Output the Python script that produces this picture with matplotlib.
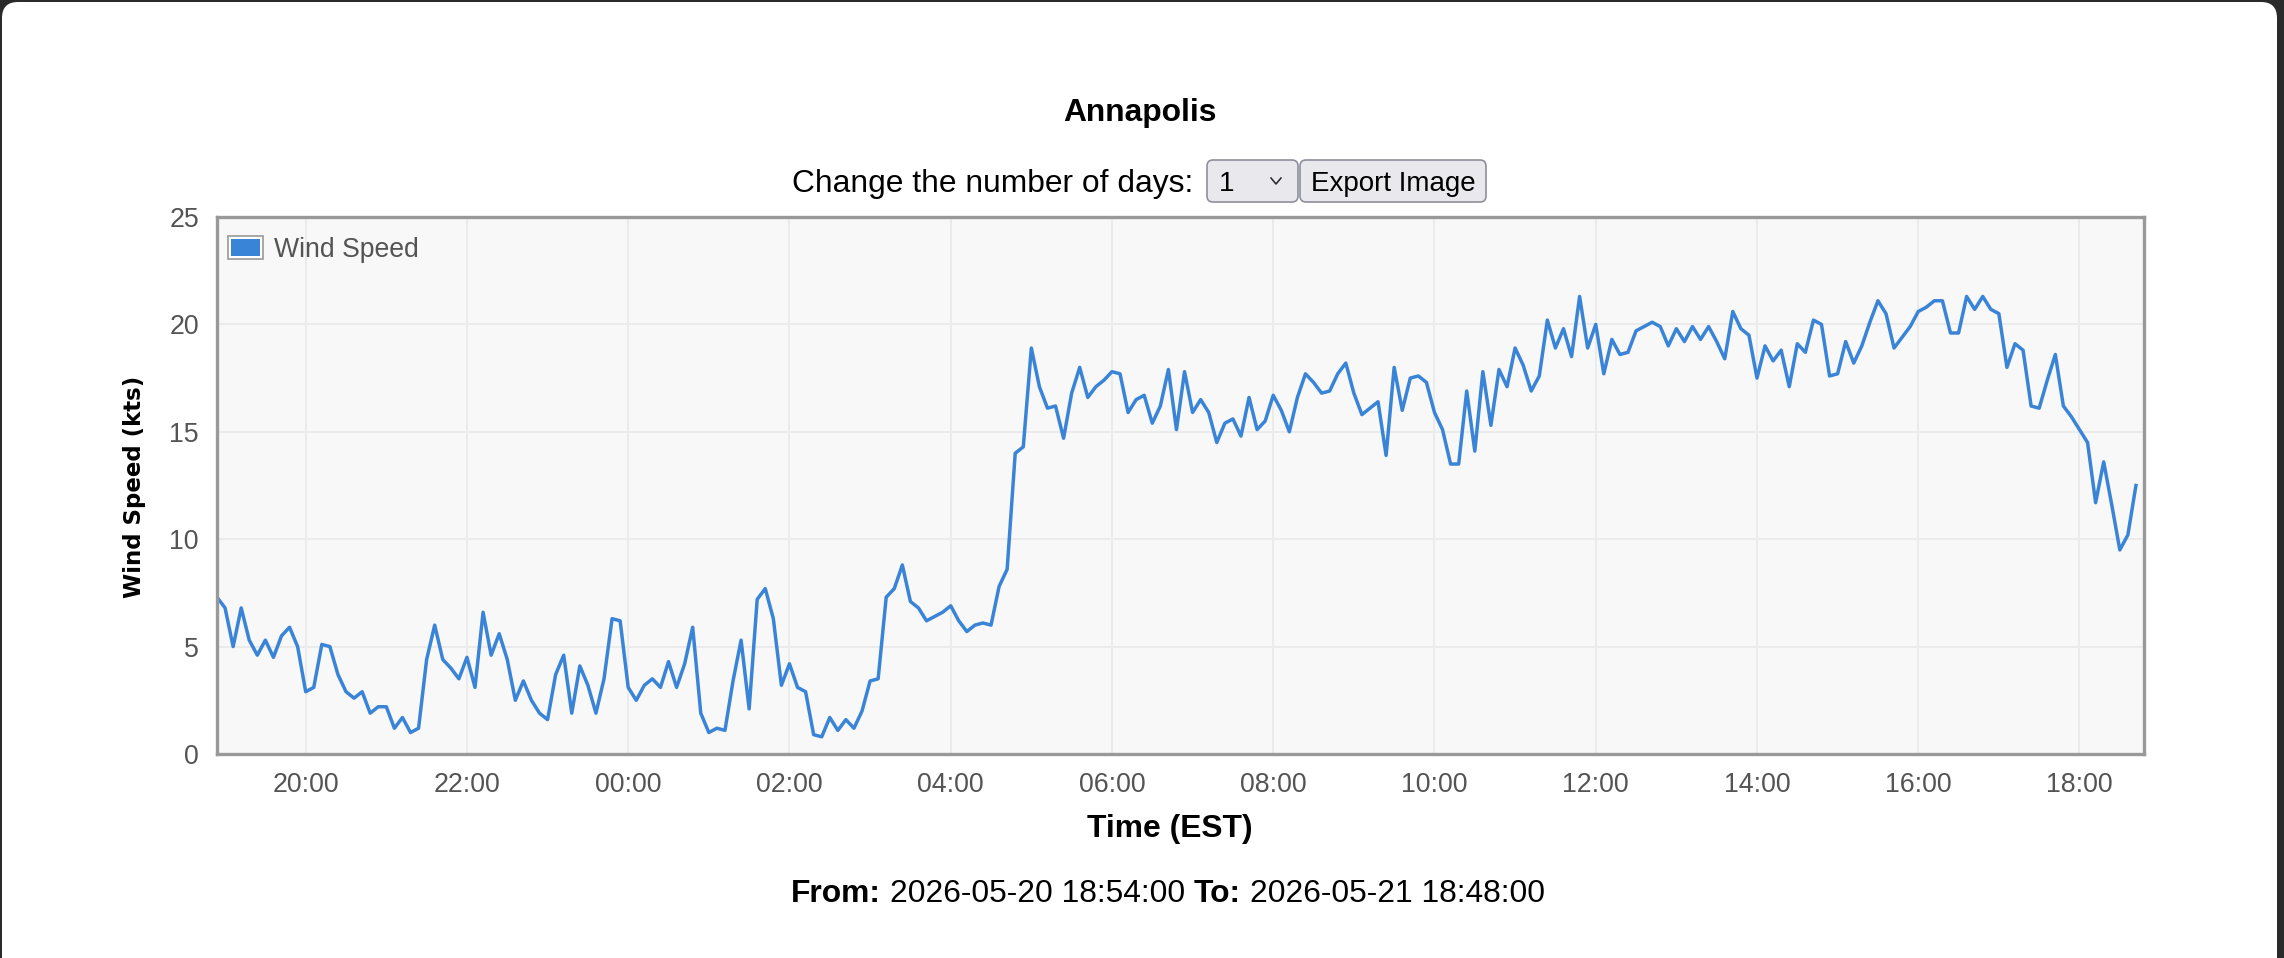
import numpy as np
import pandas as pd
import matplotlib as mpl
mpl.use('Agg')
import matplotlib.pyplot as plt
import matplotlib.dates as mdates
from matplotlib.patches import Rectangle, FancyBboxPatch
from matplotlib.legend_handler import HandlerBase
from matplotlib.transforms import IdentityTransform
from matplotlib.lines import Line2D

plt.rcParams['font.family'] = ['Liberation Sans', 'DejaVu Sans']

# data (6 minute readings)
station = 'Annapolis'
start = '2026-05-20 18:54:00'
end = '2026-05-21 18:48:00'
wind_speed = [
    7.3, 6.8, 5.0, 6.8, 5.3, 4.6, 5.3, 4.5, 5.5, 5.9,
    5.0, 2.9, 3.1, 5.1, 5.0, 3.7, 2.9, 2.6, 2.9, 1.9,
    2.2, 2.2, 1.2, 1.7, 1.0, 1.2, 4.4, 6.0, 4.4, 4.0,
    3.5, 4.5, 3.1, 6.6, 4.6, 5.6, 4.4, 2.5, 3.4, 2.5,
    1.9, 1.6, 3.7, 4.6, 1.9, 4.1, 3.2, 1.9, 3.5, 6.3,
    6.2, 3.1, 2.5, 3.2, 3.5, 3.1, 4.3, 3.1, 4.2, 5.9,
    1.9, 1.0, 1.2, 1.1, 3.4, 5.3, 2.1, 7.2, 7.7, 6.3,
    3.2, 4.2, 3.1, 2.9, 0.9, 0.8, 1.7, 1.1, 1.6, 1.2,
    2.0, 3.4, 3.5, 7.3, 7.7, 8.8, 7.1, 6.8, 6.2, 6.4,
    6.6, 6.9, 6.2, 5.7, 6.0, 6.1, 6.0, 7.8, 8.6, 14.0,
    14.3, 18.9, 17.1, 16.1, 16.2, 14.7, 16.8, 18.0, 16.6, 17.1,
    17.4, 17.8, 17.7, 15.9, 16.5, 16.7, 15.4, 16.2, 17.9, 15.1,
    17.8, 15.9, 16.5, 15.9, 14.5, 15.4, 15.6, 14.8, 16.6, 15.1,
    15.5, 16.7, 16.0, 15.0, 16.6, 17.7, 17.3, 16.8, 16.9, 17.7,
    18.2, 16.8, 15.8, 16.1, 16.4, 13.9, 18.0, 16.0, 17.5, 17.6,
    17.3, 15.9, 15.1, 13.5, 13.5, 16.9, 14.1, 17.8, 15.3, 17.9,
    17.1, 18.9, 18.1, 16.9, 17.6, 20.2, 18.9, 19.8, 18.5, 21.3,
    18.9, 20.0, 17.7, 19.3, 18.6, 18.7, 19.7, 19.9, 20.1, 19.9,
    19.0, 19.8, 19.2, 19.9, 19.3, 19.9, 19.2, 18.4, 20.6, 19.8,
    19.5, 17.5, 19.0, 18.3, 18.8, 17.1, 19.1, 18.7, 20.2, 20.0,
    17.6, 17.7, 19.2, 18.2, 19.0, 20.1, 21.1, 20.5, 18.9, 19.4,
    19.9, 20.6, 20.8, 21.1, 21.1, 19.6, 19.6, 21.3, 20.7, 21.3,
    20.7, 20.5, 18.0, 19.1, 18.8, 16.2, 16.1, 17.4, 18.6, 16.2,
    15.7, 15.1, 14.5, 11.7, 13.6, 11.6, 9.5, 10.2, 12.5,
]
times = pd.date_range(start, periods=len(wind_speed), freq='6min')
yticks = [0, 5, 10, 15, 20, 25]

W, H = 2284, 958
blue = '#3a84d8'
grey_txt = '#545454'


def fpos(x, y):
    # pixel position (from top left) to figure fraction
    return x / W, 1 - y / H


class SwatchHandler(HandlerBase):
    def create_artists(self, legend, orig_handle, xdescent, ydescent,
                       width, height, fontsize, trans):
        p = 2.2
        outer = Rectangle((-xdescent, -ydescent), width, height, fc='white',
                          ec='#999999', lw=1.2, transform=trans)
        inner = Rectangle((-xdescent + p, -ydescent + p), width - 2 * p,
                          height - 2 * p, fc=blue, ec='none', transform=trans)
        return [outer, inner]


fig = plt.figure(figsize=(W / 100, H / 100), dpi=100)
fig.patch.set_facecolor('#2a2a2a')
panel = FancyBboxPatch((2, -30), 2275, H - 2 + 30,
                       boxstyle='round,pad=0,rounding_size=16',
                       transform=IdentityTransform(), fc='white', ec='none',
                       zorder=-10)
fig.add_artist(panel)

ax = fig.add_axes([217 / W, 1 - 754 / H, 1927 / W, 537 / H])
ax.set_facecolor('#f8f8f8')
ax.plot(times, wind_speed, color=blue, lw=2.5)
ax.set_xlim(pd.Timestamp(start), pd.Timestamp(end))
ax.set_ylim(0, 25)
ax.set_yticks(yticks)
ax.xaxis.set_major_locator(mdates.HourLocator(byhour=range(0, 24, 2)))
ax.xaxis.set_major_formatter(mdates.DateFormatter('%H:%M'))
ax.grid(True, color='#ebebeb', lw=1.4)
ax.set_axisbelow(True)
for s in ax.spines.values():
    s.set_color('#999999')
    s.set_linewidth(2.4)
ax.tick_params(axis='both', length=0, labelsize=19.3, labelcolor=grey_txt)
ax.tick_params(axis='x', pad=13)
ax.tick_params(axis='y', pad=13)

handle = Rectangle((0, 0), 1, 1)
ax.legend([handle], ['Wind Speed'], handler_map={handle: SwatchHandler()},
          loc='upper left', bbox_to_anchor=(11 / 1927, 1 - 19 / 537),
          borderpad=0, borderaxespad=0, frameon=False, fontsize=19.2,
          labelcolor=grey_txt, handlelength=1.31, handleheight=0.975,
          handletextpad=0.41)

# labels
fig.text(*fpos(135, 487), 'Wind Speed (kts)', rotation=90, ha='center',
         va='center', family='DejaVu Sans', weight='bold', size=16.5)
fig.text(*fpos(1170, 829), 'Time (EST)', ha='center', va='center',
         weight='bold', size=22.9)
fig.text(*fpos(1140, 120.5), station, ha='center', va='baseline',
         weight='bold', size=22.9)

# controls row
fig.text(*fpos(792, 192), 'Change the number of days:', ha='left',
         va='baseline', size=22.9)
for x0, x1 in [(1207, 1298), (1300, 1486)]:
    box = FancyBboxPatch((x0, H - 202), x1 - x0, 42,
                         boxstyle='round,pad=0,rounding_size=6',
                         transform=IdentityTransform(), fc='#e9e9ed',
                         ec='#8f8f9d', lw=1.2)
    fig.add_artist(box)
fig.text(*fpos(1219, 191), '1', ha='left', va='baseline', size=20)
fig.add_artist(Line2D([1271, 1276, 1281], [H - 178, H - 184, H - 178],
                      transform=IdentityTransform(), color='#222222', lw=1.1))
fig.text(*fpos(1393, 191), 'Export Image', ha='center', va='baseline', size=20)

# from / to line
renderer = fig.canvas.get_renderer()
x = 791
space = 0.278 * 22.9 * 100 / 72
for piece, wt in [('From:', 'bold'), ('2026-05-20 18:54:00', 'normal'),
                  ('To:', 'bold'), ('2026-05-21 18:48:00', 'normal')]:
    t = fig.text(*fpos(x, 902.4), piece, ha='left', va='baseline',
                 weight=wt, size=22.9)
    x += t.get_window_extent(renderer).width + space

fig.savefig('out.png', dpi=100, facecolor=fig.get_facecolor())
